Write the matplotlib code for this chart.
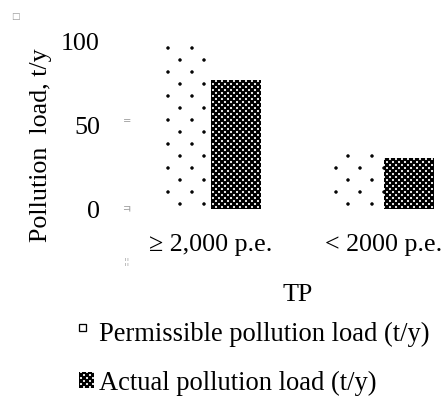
import matplotlib
matplotlib.use("Agg")
import matplotlib.pyplot as plt
import matplotlib.hatch as mh
from matplotlib.path import Path
import numpy as np

categories = ["\u2265 2,000 p.e.", "< 2000 p.e."]
permissible = [100, 35]
actual = [76.5, 30.4]
series_names = ["Permissible pollution load (t/y)", "Actual pollution load (t/y)"]
yticks = [0, 50, 100]


# sparser staggered dot hatch ('.'), closer to the reference texture
class SparseFilledDots(mh.HatchPatternBase):
    def __init__(self, hatch, density):
        n = hatch.count('.')
        pts = []
        if n:
            rows = n * density
            cols = max(1, rows // 2)
            for r in range(rows + 1):
                shift = 0.0 if r % 2 == 0 else 0.5 / cols
                for c in range(cols + 1):
                    xx = c / cols + shift
                    if xx <= 1.0:
                        pts.append((xx, r / rows))
            self.radius = 0.1 / rows
        else:
            self.radius = 0.0
        self.pts = pts
        circ = Path.unit_circle()
        self.shape_vertices = circ.vertices
        self.shape_codes = circ.codes
        self.num_vertices = len(pts) * len(self.shape_vertices)

    def set_vertices_and_codes(self, vertices, codes):
        if not self.pts:
            return
        vparts, cparts = [], []
        sv = self.shape_vertices * self.radius
        for (px, py) in self.pts:
            vparts.append(sv + [px, py])
            cparts.append(self.shape_codes)
        np.concatenate(vparts, out=vertices)
        np.concatenate(cparts, out=codes)


try:
    mh._hatch_types = [SparseFilledDots if t is mh.SmallFilledCircles else t for t in mh._hatch_types]
except Exception:
    pass

plt.rcParams['font.family'] = ['Liberation Serif', 'DejaVu Serif']
plt.rcParams['hatch.linewidth'] = 1.0

W, H, DPI = 444, 396, 72
fig = plt.figure(figsize=(W / DPI, H / DPI), dpi=DPI)

ax_left, ax_right, ax_bottom, ax_top = 110, 444, 209, 41
ax = fig.add_axes([ax_left / W, 1 - ax_bottom / H, (ax_right - ax_left) / W, (ax_bottom - ax_top) / H])

x = np.arange(len(categories))
bw = 50 / 173
b1 = ax.bar(x - bw / 2, permissible, bw, facecolor='white', edgecolor='black', linewidth=0,
            hatch='.', label=series_names[0])
b2 = ax.bar(x + bw / 2, actual, bw, facecolor='white', edgecolor='black', linewidth=0,
            hatch='xxxx', label=series_names[1])
for p in b2:
    try:
        p.set_hatch_linewidth(2.1)
    except AttributeError:
        pass

ax.set_xlim(-(211 - ax_left) / 173, 1 + (444 - 384) / 173)
ax.set_ylim(0, 100)
ax.set_yticks(yticks)
ax.set_xticks(x)
ax.set_xticklabels(categories)
ax.tick_params(axis='both', length=0, labelsize=26)
ax.tick_params(axis='y', pad=10)
ax.tick_params(axis='x', pad=25)
for s in ax.spines.values():
    s.set_visible(False)

ax.set_ylabel("Pollution  load, t/y", fontsize=26, va='center')
ax.yaxis.set_label_coords((41 - ax_left) / (ax_right - ax_left), (ax_bottom - 145) / (ax_bottom - ax_top))
ax.set_xlabel("TP", fontsize=26)
ax.xaxis.set_label_coords((298 - ax_left) / (ax_right - ax_left), -(295 - ax_bottom) / (ax_bottom - ax_top))
ax.xaxis.label.set_va('center')

leg = fig.legend(handles=[b1, b2], labels=series_names, loc='upper left',
                 bbox_to_anchor=(79 / W, 1 - 322 / H), frameon=False, fontsize=26.5,
                 handlelength=0.55, handleheight=0.55, handletextpad=0.2,
                 labelspacing=0.88, borderpad=0, borderaxespad=0)

# first legend key in the reference is a small outlined square
h0 = leg.legend_handles[0]
try:
    hw = h0.get_width()
    hh = h0.get_height()
    x0, y0 = h0.get_xy()
    h0.set_xy((x0, y0 + hh - 7.5))
    h0.set_width(7)
    h0.set_height(7)
    h0.set_edgecolor('black')
    h0.set_linewidth(1.3)
    h0.set_hatch(None)
except Exception:
    pass
for p in [leg.legend_handles[1]]:
    try:
        p.set_hatch_linewidth(2.1)
    except AttributeError:
        pass

# faint artifacts
gray = '#999999'
fig.text(15 / W, 1 - 16 / H, "\u25a1", fontsize=9, color=gray, ha='center', va='center', family='DejaVu Sans')
fig.text(127 / W, 1 - 121 / H, "=", fontsize=10, color=gray, ha='center', va='center', family='DejaVu Sans')
fig.text(126 / W, 1 - 210 / H, "\u314b", fontsize=11, color=gray, ha='center', va='center',
         family=['Noto Sans CJK KR', 'DejaVu Sans'])
fig.text(127 / W, 1 - 262 / H, "\u00a6\u00a6", fontsize=8, color=gray, ha='center', va='center', family='DejaVu Sans')

fig.savefig("out.png", dpi=DPI)
